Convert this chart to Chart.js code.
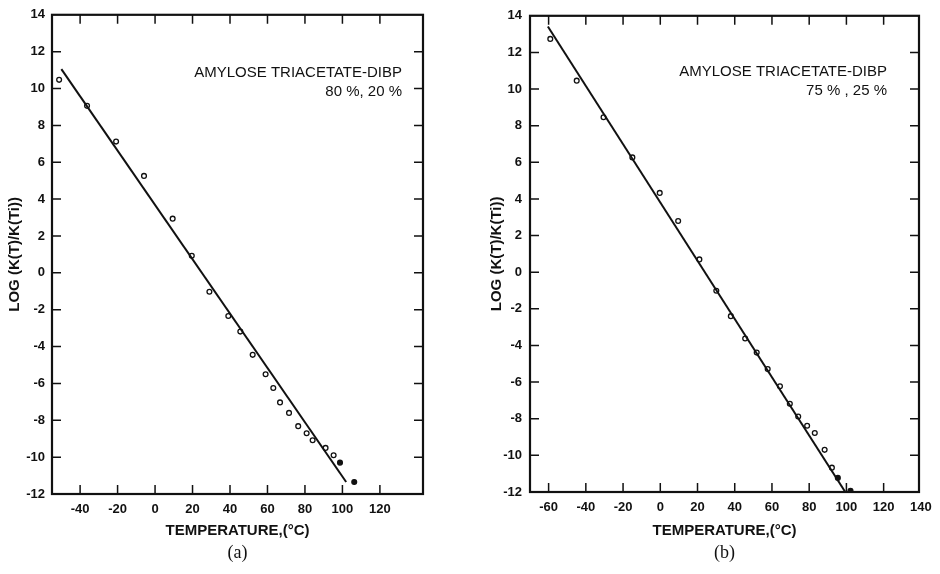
<!DOCTYPE html>
<html>
<head>
<meta charset="utf-8">
<script src="https://cdn.jsdelivr.net/npm/chart.js@4.4.0/dist/chart.umd.min.js"></script>
<style>
  body { margin: 0; background: #fff; }
  canvas { position: absolute; top: 0; }
</style>
</head>
<body>
<canvas id="chartA" width="470" height="574" style="left:0"></canvas>
<canvas id="chartB" width="470" height="574" style="left:470px"></canvas>
<script>
// (a) amylose triacetate 80% / DIBP 20%
const tempA = [-51.2, -36.3, -20.8, -5.9, 9.4, 19.6, 29.0, 39.1, 45.5, 52.1, 59.0,
  63.1, 66.7, 71.5, 76.4, 80.9, 84.1, 91.0, 95.3, 98.7, 106.3];
const logA = [10.47, 9.06, 7.12, 5.26, 2.94, 0.92, -1.03, -2.34, -3.19, -4.45, -5.5,
  -6.25, -7.03, -7.6, -8.32, -8.7, -9.08, -9.5, -9.9, -10.3, -11.35];
const filledA = [false, false, false, false, false, false, false, false, false, false, false,
  false, false, false, false, false, false, false, false, true, true];
const fitTempA = [-50, 102];
const fitLogA = [11.05, -11.35];
const xTicksA = [-40, -20, 0, 20, 40, 60, 80, 100, 120];

// (b) amylose triacetate 75% / DIBP 25%
const tempB = [-59.1, -44.9, -30.5, -15.0, -0.3, 9.6, 21.0, 30.1, 37.9, 45.6, 51.8,
  57.7, 64.3, 69.6, 74.1, 78.9, 83.0, 88.3, 92.2, 95.4, 102.2];
const logB = [12.74, 10.46, 8.46, 6.27, 4.33, 2.8, 0.7, -1.01, -2.4, -3.62, -4.39,
  -5.29, -6.23, -7.18, -7.88, -8.38, -8.78, -9.7, -10.67, -11.23, -11.93];
const filledB = [false, false, false, false, false, false, false, false, false, false, false,
  false, false, false, false, false, false, false, false, true, true];
const fitTempB = [-60.4, 99.4];
const fitLogB = [13.42, -12.0];
const xTicksB = [-60, -40, -20, 0, 20, 40, 60, 80, 100, 120, 140];

const yTicks = [-12, -10, -8, -6, -4, -2, 0, 2, 4, 6, 8, 10, 12, 14];

Chart.defaults.font.family = "'Liberation Sans', Arial, sans-serif";
Chart.defaults.color = "#111";

// box with inward ticks on all four sides + the note in the corner
const framePlugin = {
  id: "frame",
  afterDraw(chart, args, opts) {
    const { ctx, chartArea: a } = chart;
    const x = chart.scales.x, y = chart.scales.y;
    const len = 9;
    ctx.save();
    ctx.strokeStyle = "#111";
    ctx.lineWidth = 1.5;
    ctx.beginPath();
    x.ticks.forEach(t => {
      if (t.value <= x.min || t.value >= x.max) return;
      const px = x.getPixelForValue(t.value);
      ctx.moveTo(px, a.bottom); ctx.lineTo(px, a.bottom - len);
      ctx.moveTo(px, a.top); ctx.lineTo(px, a.top + len);
    });
    y.ticks.forEach(t => {
      if (t.value <= y.min || t.value >= y.max) return;
      const py = y.getPixelForValue(t.value);
      ctx.moveTo(a.left, py); ctx.lineTo(a.left + len, py);
      ctx.moveTo(a.right, py); ctx.lineTo(a.right - len, py);
    });
    ctx.stroke();
    ctx.lineWidth = 2.2;
    ctx.strokeRect(a.left, a.top, a.right - a.left, a.bottom - a.top);

    ctx.fillStyle = "#111";
    ctx.font = "15px 'Liberation Sans', Arial, sans-serif";
    ctx.textAlign = "right";
    ctx.textBaseline = "middle";
    ctx.fillText(opts.lines[0], a.right - opts.dx, opts.y0);
    ctx.fillText(opts.lines[1], a.right - opts.dx, opts.y1);
    ctx.restore();
  }
};

function makeChart(id, p) {
  return new Chart(document.getElementById(id), {
    type: "scatter",
    data: {
      datasets: [
        {
          data: p.fitX.map((v, i) => ({ x: v, y: p.fitY[i] })),
          showLine: true,
          borderColor: "#111",
          borderWidth: 2,
          pointRadius: 0,
        },
        {
          data: p.xs.map((v, i) => ({ x: v, y: p.ys[i] })),
          pointRadius: 2.4,
          pointBorderWidth: 1.3,
          pointBorderColor: "#111",
          pointBackgroundColor: p.filled.map(f => (f ? "#111" : "rgba(255,255,255,0)")),
        },
      ],
    },
    options: {
      responsive: false,
      animation: false,
      events: [],
      layout: { padding: { top: p.top, right: p.right, left: 0, bottom: 0 } },
      plugins: {
        legend: { display: false },
        tooltip: { enabled: false },
        title: {
          display: true,
          text: p.label,
          position: "bottom",
          fullSize: false,
          color: "#111",
          font: { family: "'Liberation Serif', 'Times New Roman', serif", size: 18, weight: "normal" },
          padding: { top: 0, bottom: 10 },
        },
        frame: { lines: p.note, dx: p.noteDx, y0: p.noteY0, y1: p.noteY1 },
      },
      scales: {
        x: {
          type: "linear",
          min: p.xMin,
          max: p.xMax,
          afterBuildTicks: s => { s.ticks = p.xTicks.map(v => ({ value: v })); },
          afterFit: s => { s.height = p.xHeight; },
          grid: { display: false, drawTicks: false },
          border: { display: false },
          ticks: { padding: 8, color: "#111", font: { size: 13, weight: "bold" } },
          title: {
            display: true,
            text: "TEMPERATURE,(°C)",
            color: "#111",
            font: { size: 15, weight: "bold" },
            padding: { top: 0, bottom: 3 },
          },
        },
        y: {
          min: -12,
          max: 14,
          afterBuildTicks: s => { s.ticks = yTicks.map(v => ({ value: v })); },
          afterFit: s => { s.width = p.yWidth; },
          grid: { display: false, drawTicks: false },
          border: { display: false },
          ticks: { padding: p.yPad, color: "#111", font: { size: 13, weight: "bold" } },
          title: {
            display: true,
            text: "LOG (K(T)/K(Ti))",
            color: "#111",
            font: { size: 15, weight: "bold" },
            padding: { top: p.yTitlePad, bottom: 0 },
          },
        },
      },
    },
    plugins: [framePlugin],
  });
}

makeChart("chartA", {
  xs: tempA, ys: logA, filled: filledA, fitX: fitTempA, fitY: fitLogA,
  xTicks: xTicksA, xMin: -55, xMax: 143,
  top: 12, right: 47, xHeight: 48.4, yWidth: 52, yPad: 7, yTitlePad: 6,
  label: "(a)",
  note: ["AMYLOSE TRIACETATE-DIBP", "80 %, 20 %"], noteDx: 21, noteY0: 73, noteY1: 92,
});

makeChart("chartB", {
  xs: tempB, ys: logB, filled: filledB, fitX: fitTempB, fitY: fitLogB,
  xTicks: xTicksB, xMin: -70, xMax: 139,
  top: 10, right: 21, xHeight: 50.4, yWidth: 60, yPad: 8, yTitlePad: 18,
  label: "(b)",
  note: ["AMYLOSE TRIACETATE-DIBP", "75 % , 25 %"], noteDx: 32, noteY0: 71.5, noteY1: 90.5,
});
</script>
</body>
</html>
